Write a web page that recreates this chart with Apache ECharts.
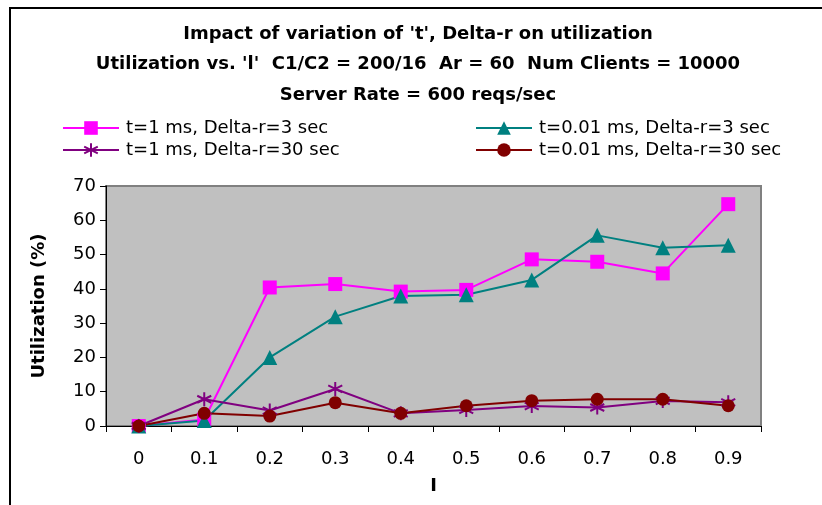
<!DOCTYPE html>
<html>
<head>
<meta charset="utf-8">
<script src="https://cdn.jsdelivr.net/npm/echarts@6/dist/echarts.min.js"></script>
<style>
  html, body { margin: 0; padding: 0; background: #fff; }
  #chart { width: 822px; height: 505px; }
</style>
</head>
<body>
<div id="chart"></div>
<script>
// Categories: values of 'l'
const categories = ['0', '0.1', '0.2', '0.3', '0.4', '0.5', '0.6', '0.7', '0.8', '0.9'];

// Utilization (%) per series
const t1ms_dr3   = [0, 1.9, 40.4, 41.4, 39.2, 39.7, 48.6, 47.9, 44.5, 64.7];
const t001_dr3   = [0, 1.6, 20.0, 31.9, 37.9, 38.3, 42.6, 55.6, 52.0, 52.7];
const t1ms_dr30  = [0, 7.8, 4.5, 10.8, 3.7, 4.7, 5.8, 5.4, 7.3, 6.9];
const t001_dr30  = [0, 3.7, 2.9, 6.8, 3.7, 5.9, 7.4, 7.8, 7.8, 5.9];

const seriesNames = [
  't=1 ms, Delta-r=3 sec',
  't=0.01 ms, Delta-r=3 sec',
  't=1 ms, Delta-r=30 sec',
  't=0.01 ms, Delta-r=30 sec'
];

const yTicks = { min: 0, max: 70, interval: 10 };

const FONT = 'DejaVu Sans';
const starPath = 'path://M0,-10 L0,10 M-8.66,-5 L8.66,5 M-8.66,5 L8.66,-5';

function legendAt(name, left, top) {
  return {
    data: [name],
    left: left,
    top: top,
    padding: 0,
    orient: 'horizontal',
    itemWidth: 56,
    itemHeight: 17,
    itemGap: 0,
    selectedMode: false,
    textStyle: { fontFamily: FONT, fontSize: 18, color: '#000', lineHeight: 20, padding: [0, 0, 0, 2] }
  };
}

const chart = echarts.init(document.getElementById('chart'), null, { renderer: 'canvas' });

chart.setOption({
  animation: false,
  backgroundColor: '#fff',
  title: {
    text: "Impact of variation of 't', Delta-r on utilization\nUtilization vs. 'l'  C1/C2 = 200/16  Ar = 60  Num Clients = 10000\nServer Rate = 600 reqs/sec",
    left: 413,
    top: 14,
    textAlign: 'center',
    textStyle: { fontFamily: FONT, fontSize: 18, fontWeight: 'bold', color: '#000', lineHeight: 30.5 }
  },
  graphic: [{
    type: 'rect',
    shape: { x: 10, y: 8, width: 840, height: 600 },
    style: { fill: 'none', stroke: '#000', lineWidth: 2 },
    silent: true
  }],
  legend: [
    legendAt(seriesNames[0], 62, 118),
    legendAt(seriesNames[1], 475, 118),
    legendAt(seriesNames[2], 62, 140),
    legendAt(seriesNames[3], 475, 140)
  ],
  grid: {
    left: 106, right: 61, top: 186, bottom: 79,
    show: true,
    backgroundColor: '#c0c0c0',
    borderColor: '#808080',
    borderWidth: 2
  },
  xAxis: {
    type: 'category',
    data: categories,
    boundaryGap: true,
    name: 'I',
    nameLocation: 'middle',
    nameGap: 51,
    nameTextStyle: { fontFamily: FONT, fontSize: 18, fontWeight: 'bold', color: '#000' },
    axisLine: { lineStyle: { color: '#000', width: 1 } },
    axisTick: { show: true, length: 6, inside: false, lineStyle: { color: '#000' } },
    axisLabel: { fontFamily: FONT, fontSize: 18, color: '#000', margin: 24 },
    splitLine: { show: false }
  },
  yAxis: {
    type: 'value',
    min: yTicks.min,
    max: yTicks.max,
    interval: yTicks.interval,
    name: 'Utilization (%)',
    nameLocation: 'middle',
    nameGap: 58,
    nameTextStyle: { fontFamily: FONT, fontSize: 18, fontWeight: 'bold', color: '#000' },
    axisLine: { show: true, lineStyle: { color: '#000', width: 1 } },
    axisTick: { show: true, length: 6, inside: false, lineStyle: { color: '#000' } },
    axisLabel: { fontFamily: FONT, fontSize: 18, color: '#000', margin: 10 },
    splitLine: { show: false }
  },
  series: [
    {
      name: seriesNames[0], type: 'line', data: t1ms_dr3,
      symbol: 'rect', symbolSize: 14,
      lineStyle: { color: '#ff00ff', width: 2 },
      itemStyle: { color: '#ff00ff' }
    },
    {
      name: seriesNames[1], type: 'line', data: t001_dr3,
      symbol: 'triangle', symbolSize: 15,
      lineStyle: { color: '#008080', width: 2 },
      itemStyle: { color: '#008080' }
    },
    {
      name: seriesNames[2], type: 'line', data: t1ms_dr30,
      symbol: starPath, symbolSize: 14,
      lineStyle: { color: '#800080', width: 2 },
      itemStyle: { color: 'none', borderColor: '#800080', borderWidth: 2 }
    },
    {
      name: seriesNames[3], type: 'line', data: t001_dr30,
      symbol: 'circle', symbolSize: 13,
      lineStyle: { color: '#800000', width: 2 },
      itemStyle: { color: '#800000' }
    }
  ]
});
</script>
</body>
</html>
